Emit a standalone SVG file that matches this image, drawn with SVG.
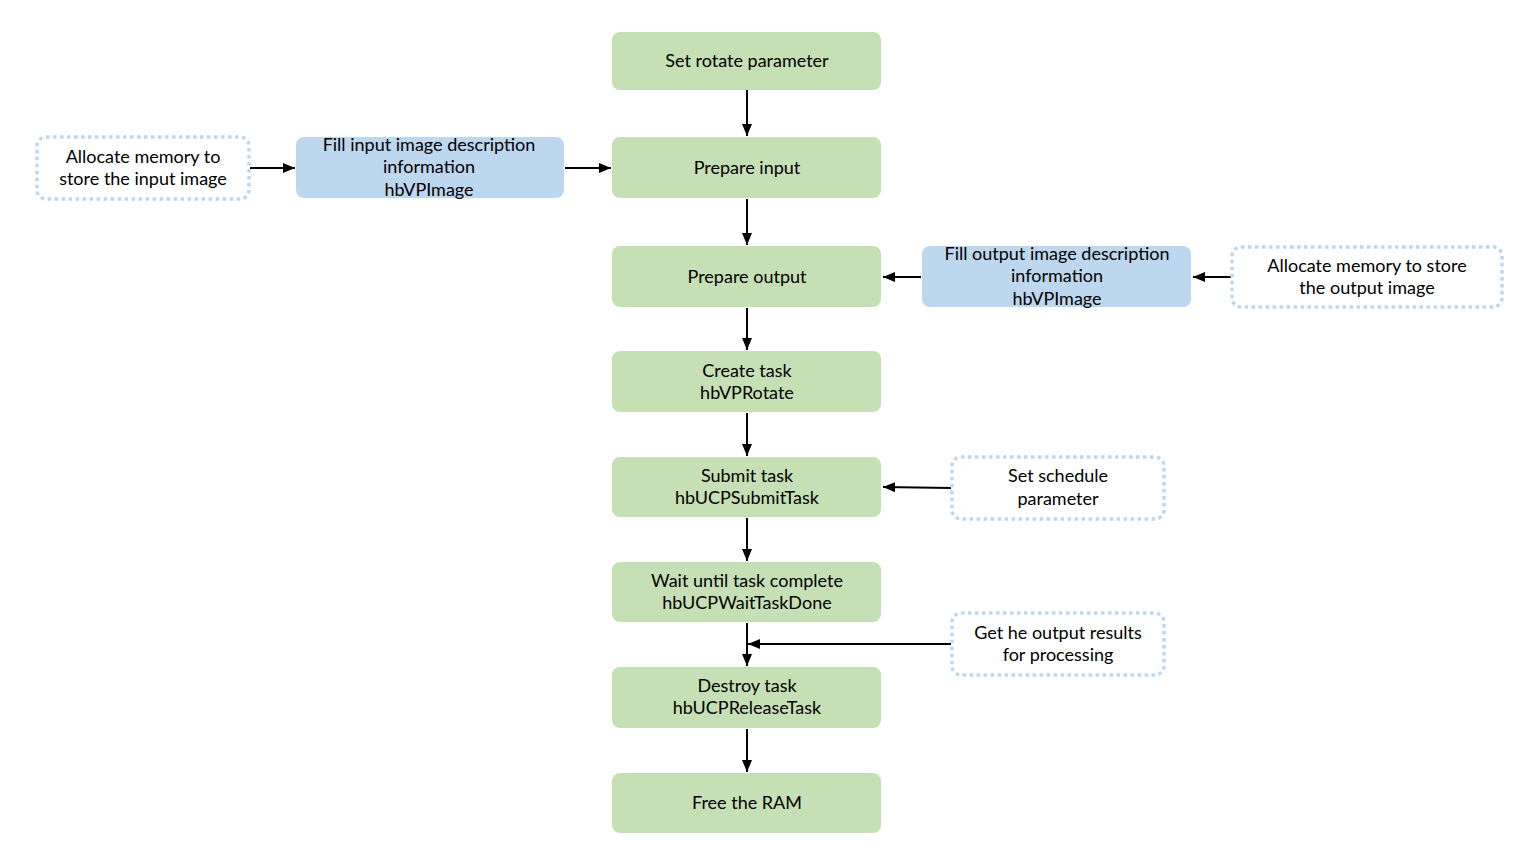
<svg xmlns="http://www.w3.org/2000/svg" width="1528" height="865" viewBox="0 0 1528 865">
<defs>
<marker id="ah" markerWidth="12" markerHeight="10" refX="12" refY="5" orient="auto" markerUnits="userSpaceOnUse">
<path d="M0,0 L12,5 L0,10 Z" fill="#000"/>
</marker>
<style>
.g{fill:#c5e0b4;}
.b{fill:#bdd7ee;}
.d{fill:#fff;stroke:#bdd7ee;stroke-width:3.5;stroke-dasharray:3.5 3.5;}
text{font-family:Lato,"Open Sans","Liberation Sans",sans-serif;font-size:18px;fill:#000;text-anchor:middle;}
.c{stroke:#000;stroke-width:2;fill:none;marker-end:url(#ah);}
</style>
</defs>
<rect width="1528" height="865" fill="#fff"/>
<g id="connectors">
<line class="c" x1="747" y1="90" x2="747" y2="136"/>
<line class="c" x1="747" y1="199" x2="747" y2="245"/>
<line class="c" x1="747" y1="308" x2="747" y2="350"/>
<line class="c" x1="747" y1="413" x2="747" y2="456"/>
<line class="c" x1="747" y1="518" x2="747" y2="561"/>
<line class="c" x1="747" y1="623" x2="747" y2="666"/>
<line class="c" x1="747" y1="729" x2="747" y2="772"/>
<line class="c" x1="250" y1="168" x2="295" y2="168"/>
<line class="c" x1="565" y1="168" x2="611" y2="168"/>
<line class="c" x1="1231" y1="277" x2="1193" y2="277"/>
<line class="c" x1="921" y1="277" x2="883" y2="277"/>
<line class="c" x1="951" y1="488" x2="883" y2="487"/>
<line class="c" x1="951" y1="644" x2="748" y2="644"/>
</g>
<g id="n1"><rect class="g" x="612" y="32" width="269" height="58" rx="8"/><text x="747" y="67">Set rotate parameter</text></g>
<g id="n2"><rect class="g" x="612" y="137" width="269" height="61" rx="8"/><text x="747" y="174">Prepare input</text></g>
<g id="n3"><rect class="g" x="612" y="246" width="269" height="61" rx="8"/><text x="747" y="283">Prepare output</text></g>
<g id="n4"><rect class="g" x="612" y="351" width="269" height="61" rx="8"/><text x="747" y="377">Create task</text><text x="747" y="399">hbVPRotate</text></g>
<g id="n5"><rect class="g" x="612" y="457" width="269" height="60" rx="8"/><text x="747" y="482">Submit task</text><text x="747" y="504">hbUCPSubmitTask</text></g>
<g id="n6"><rect class="g" x="612" y="562" width="269" height="60" rx="8"/><text x="747" y="587">Wait until task complete</text><text x="747" y="609">hbUCPWaitTaskDone</text></g>
<g id="n7"><rect class="g" x="612" y="667" width="269" height="61" rx="8"/><text x="747" y="692">Destroy task</text><text x="747" y="714">hbUCPReleaseTask</text></g>
<g id="n8"><rect class="g" x="612" y="773" width="269" height="60" rx="8"/><text x="747" y="809">Free the RAM</text></g>
<g id="b1"><rect class="b" x="296" y="137" width="268" height="61" rx="8"/><text x="429" y="151">Fill input image description</text><text x="429" y="173">information</text><text x="429" y="196">hbVPImage</text></g>
<g id="b2"><rect class="b" x="922" y="246" width="269" height="61" rx="8"/><text x="1057" y="260">Fill output image description</text><text x="1057" y="282">information</text><text x="1057" y="305">hbVPImage</text></g>
<g id="d1"><rect class="d" x="37" y="137" width="212" height="62" rx="9"/><text x="143" y="163">Allocate memory to</text><text x="143" y="185">store the input image</text></g>
<g id="d2"><rect class="d" x="1232" y="247" width="270" height="60" rx="9"/><text x="1367" y="272">Allocate memory to store</text><text x="1367" y="294">the output image</text></g>
<g id="d3"><rect class="d" x="952" y="457" width="212" height="62" rx="9"/><text x="1058" y="482">Set schedule</text><text x="1058" y="505">parameter</text></g>
<g id="d4"><rect class="d" x="952" y="613" width="212" height="62" rx="9"/><text x="1058" y="639">Get he output results</text><text x="1058" y="661">for processing</text></g>
</svg>
